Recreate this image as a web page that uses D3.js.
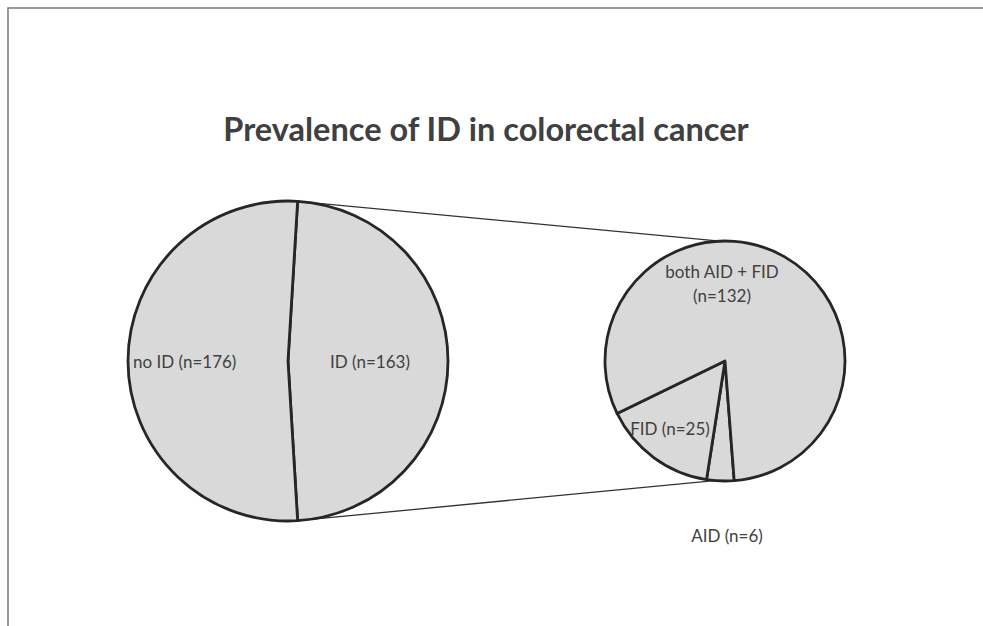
<!DOCTYPE html>
<html>
<head>
<meta charset="utf-8">
<script src="https://cdn.jsdelivr.net/npm/d3@7"></script>
<style>
  html, body { margin: 0; padding: 0; background: #fff; }
  text { font-family: Lato, "Open Sans", sans-serif; fill: #404040; }
</style>
</head>
<body>
<div id="chart"></div>
<script>
// Main pie: ID split, the ID slice is broken out into the second pie
const mainLabels = ["ID (n=163)", "no ID (n=176)"];
const mainValues = [163, 176];

// Secondary pie: kind of ID
const subLabels = ["AID (n=6)", "FID (n=25)", "both AID + FID (n=132)"];
const subValues = [6, 25, 132];

const title = "Prevalence of ID in colorectal cancer";

const W = 983, H = 626;
const deg = Math.PI / 180;

const svg = d3.select("#chart")
  .append("svg")
  .attr("width", W)
  .attr("height", H);

// frame (only top and left edges show in the picture)
svg.append("path")
  .attr("d", `M8,${H} V8 H${W}`)
  .attr("fill", "none")
  .attr("stroke", "#7a7a7a")
  .attr("stroke-width", 1.5);

svg.append("text")
  .attr("x", 486)
  .attr("y", 141)
  .attr("text-anchor", "middle")
  .style("font-size", "32.5px")
  .style("font-weight", "bold")
  .text(title);

const main = { cx: 288, cy: 361, r: 160 };
const sub = { cx: 725, cy: 361, r: 120 };

// the broken-out slice is centred on the right (90deg)
const idShare = mainValues[0] / d3.sum(mainValues) * 360;
const mainStart = (90 - idShare / 2) * deg;

const mainPie = d3.pie().sort(null)
  .startAngle(mainStart)
  .endAngle(mainStart + 2 * Math.PI);
const subPie = d3.pie().sort(null)
  .startAngle(175.6 * deg)
  .endAngle(175.6 * deg + 2 * Math.PI);

const mainArcs = mainPie(mainValues);
const subArcs = subPie(subValues);

const arcMain = d3.arc().innerRadius(0).outerRadius(main.r);
const arcSub = d3.arc().innerRadius(0).outerRadius(sub.r);

const pt = (c, a) => [c.cx + c.r * Math.sin(a), c.cy - c.r * Math.cos(a)];

// connector lines from the ID slice edges to the second pie
const idArc = mainArcs[0];
const lines = [
  [pt(main, idArc.startAngle), pt(sub, -2.4 * deg)],
  [pt(main, idArc.endAngle), pt(sub, 185 * deg)]
];
svg.selectAll(".connector")
  .data(lines)
  .enter()
  .append("line")
  .attr("class", "connector")
  .attr("x1", d => d[0][0])
  .attr("y1", d => d[0][1])
  .attr("x2", d => d[1][0])
  .attr("y2", d => d[1][1])
  .attr("stroke", "#333")
  .attr("stroke-width", 1.3);

svg.append("g")
  .attr("transform", `translate(${main.cx},${main.cy})`)
  .selectAll("path")
  .data(mainArcs)
  .enter()
  .append("path")
  .attr("d", arcMain)
  .attr("fill", "#d9d9d9")
  .attr("stroke", "#262626")
  .attr("stroke-width", 2.8)
  .attr("stroke-linejoin", "round");

svg.append("g")
  .attr("transform", `translate(${sub.cx},${sub.cy})`)
  .selectAll("path")
  .data(subArcs)
  .enter()
  .append("path")
  .attr("d", arcSub)
  .attr("fill", "#d9d9d9")
  .attr("stroke", "#262626")
  .attr("stroke-width", 2.8)
  .attr("stroke-linejoin", "round");

// data labels, placed the way the original chart has them
const labelSize = "17px";
function label(x, y, lines, anchor) {
  const t = svg.append("text")
    .attr("x", x)
    .attr("y", y)
    .attr("text-anchor", anchor || "middle")
    .style("font-size", labelSize);
  lines.forEach((s, i) => {
    t.append("tspan").attr("x", x).attr("dy", i ? 24 : 0).text(s);
  });
}

label(main.cx - 155, 368, [mainLabels[1]], "start");
label(main.cx + 82, 368, [mainLabels[0]]);
label(sub.cx - 3, 278, ["both AID + FID", subLabels[2].replace("both AID + FID ", "")]);
label(sub.cx - 55, 435, [subLabels[1]]);
label(sub.cx + 2, 542, [subLabels[0]]);
</script>
</body>
</html>
